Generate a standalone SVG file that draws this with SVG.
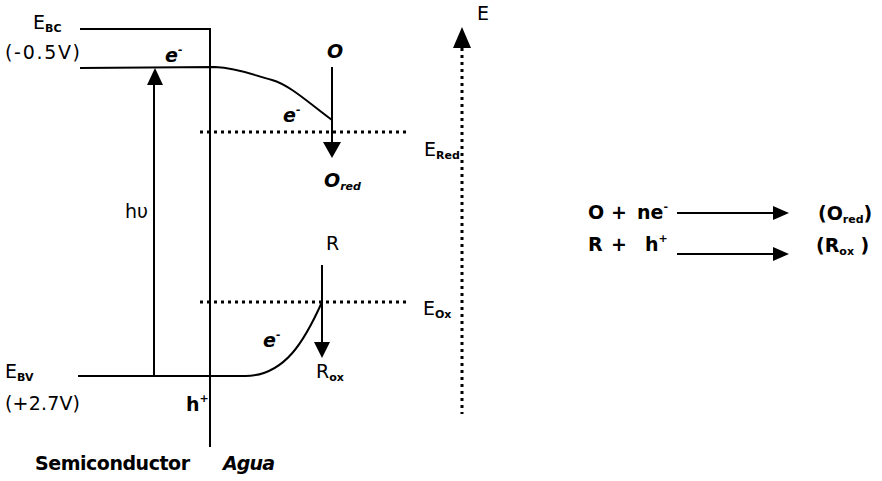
<svg xmlns="http://www.w3.org/2000/svg" width="882" height="481" viewBox="0 0 882 481">
<defs>
<style>
.ln{fill:none;stroke:#000;stroke-width:2}
.dot{fill:none;stroke:#000;stroke-width:3;stroke-dasharray:3 4}
.t{font-family:"DejaVu Sans","Liberation Sans",sans-serif;font-size:19px;fill:#000}
.it{font-style:italic;font-weight:bold}
.b{font-weight:bold}
.s{font-size:11px;font-weight:bold}
.ah{fill:#000}
</style>
</defs>
<rect width="882" height="481" fill="#fff"/>
<g id="connectors">
<path class="ln" d="M80,29 L210,29 L210,447"/>
<path class="ln" d="M80,68 L215,67 C240,68 255,76 272,80 C290,85 310,104 332,120"/>
<path class="ln" d="M78,376 L245,376 C285,376 305,340 322,302"/>
<line class="dot" x1="200" y1="132" x2="406" y2="132"/>
<line class="dot" x1="200" y1="302" x2="406" y2="302"/>
<line class="dot" x1="462" y1="48" x2="462" y2="414"/>
<polygon class="ah" points="462,27 453,48 471,48"/>
<line class="ln" x1="154" y1="376" x2="154" y2="84"/>
<polygon class="ah" points="155,68 147,85 163,85"/>
<line class="ln" x1="332" y1="67" x2="332" y2="145"/>
<polygon class="ah" points="332,158 323,142 341,142"/>
<line class="ln" x1="322" y1="265" x2="322" y2="344"/>
<polygon class="ah" points="322,358 314,342 330,342"/>
<line class="ln" x1="677" y1="213" x2="776" y2="213"/>
<polygon class="ah" points="789,213 773,206 773,220"/>
<line class="ln" x1="677" y1="254" x2="776" y2="254"/>
<polygon class="ah" points="789,254 773,247 773,261"/>
</g>
<g id="labels-left">
<text class="t" x="33" y="29">E<tspan class="s" dy="3">BC</tspan></text>
<text class="t" x="5" y="59" textLength="75">(-0.5V)</text>
<text class="t" x="5" y="378">E<tspan class="s" dy="3">BV</tspan></text>
<text class="t" x="5" y="410" textLength="75">(+2.7V)</text>
<text class="t" x="125" y="218">hυ</text>
<text class="t b" x="35" y="470" textLength="155">Semiconductor</text>
<text class="t it" x="223" y="470" textLength="52">Agua</text>
</g>
<g id="carriers">
<text class="t it" x="165" y="62">e<tspan class="s" dy="-9">-</tspan></text>
<text class="t it" x="283" y="122">e<tspan class="s" dy="-9">-</tspan></text>
<text class="t it" x="263" y="347">e<tspan class="s" dy="-9">-</tspan></text>
<text class="t b" x="186" y="411">h<tspan class="s" dy="-9">+</tspan></text>
</g>
<g id="species">
<text class="t it" x="327" y="58">O</text>
<text class="t it" x="324" y="187">O<tspan class="s" dy="3">red</tspan></text>
<text class="t" x="326" y="250">R</text>
<text class="t" x="316" y="378">R<tspan class="s" dy="3">ox</tspan></text>
</g>
<g id="levels">
<text class="t" x="424" y="156">E<tspan class="s" dy="3">Red</tspan></text>
<text class="t" x="423" y="315">E<tspan class="s" dy="3">Ox</tspan></text>
<text class="t" x="477" y="20">E</text>
</g>
<g id="equations">
<text class="t b" x="588" y="219">O</text>
<text class="t b" x="611" y="219">+</text>
<text class="t b" x="637" y="219">ne<tspan class="s" dy="-9">-</tspan></text>
<text class="t b" x="818" y="220">(O<tspan class="s" dy="3">red</tspan><tspan dy="-3">)</tspan></text>
<text class="t b" x="588" y="251">R</text>
<text class="t b" x="611" y="251">+</text>
<text class="t b" x="645" y="251">h<tspan class="s" dy="-9">+</tspan></text>
<text class="t b" x="816" y="252">(R<tspan class="s" dy="3">ox</tspan><tspan dy="-3"> )</tspan></text>
</g>
</svg>
